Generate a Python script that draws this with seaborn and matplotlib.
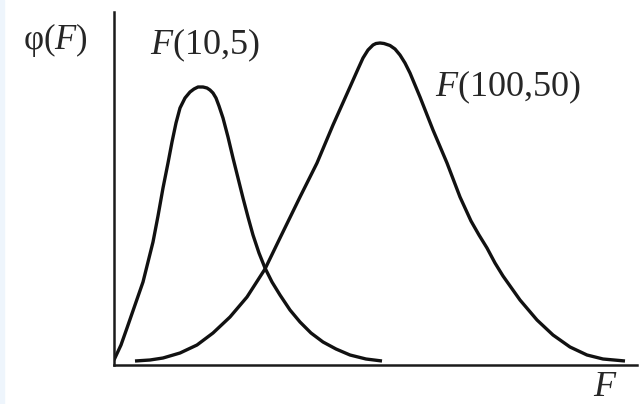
import numpy as np
import pandas as pd
import matplotlib
matplotlib.use("Agg")
import matplotlib.pyplot as plt
from matplotlib.patches import Rectangle
import seaborn as sns

# CURVE VALUES (F along x, phi(F) up)
f_10_5_x = [0, 7, 13, 21, 29, 34, 39, 44, 49, 54, 58, 62, 66, 71, 76, 80, 84, 89,
            93, 96, 99, 102, 105, 109, 114, 119, 124, 129, 134, 139, 145, 151,
            158, 166, 176, 186, 197, 209, 222, 236, 252, 268]
f_10_5_y = [5, 20, 37, 60, 83, 103, 123, 149, 177, 202, 223, 242, 257, 267, 273, 276,
            278, 278, 277, 275, 272, 267, 259, 247, 228, 207, 187, 167, 148, 130,
            112, 97, 83, 70, 55, 43, 32, 23, 16, 10, 6, 4]

f_100_50_x = [21, 36, 49, 66, 83, 99, 116, 133, 151, 166, 186, 203, 219, 236, 244,
              249, 254, 259, 262, 266, 270, 276, 281, 286, 291, 296, 306, 319, 333,
              346, 357, 365, 373, 381, 389, 406, 423, 439, 456, 473, 489, 511]
f_100_50_y = [4, 5, 7, 12, 20, 32, 48, 68, 96, 127, 168, 202, 240, 278, 296,
              307, 315, 320, 321.5, 322, 321.5, 319.5, 316, 310, 302, 292, 268, 235, 202,
              168, 144, 130, 117, 102, 89, 65, 45, 30, 18, 10, 6, 4]

# LABELS
y_label = "φ($F$)"
x_label = "$F$"
curve_labels = ["$F$(10,5)", "$F$(100,50)"]

sns.set_theme(style="white")
plt.rcParams['font.family'] = ['Liberation Serif', 'DejaVu Serif']
plt.rcParams['mathtext.fontset'] = 'custom'
plt.rcParams['mathtext.rm'] = 'Liberation Serif'
plt.rcParams['mathtext.it'] = 'Liberation Serif:italic'

W, H = 639, 404
fig = plt.figure(figsize=(W / 100, H / 100), dpi=100)
fig.patches.append(Rectangle((0, 0), 4 / W, 1, transform=fig.transFigure,
                             color='#eef5fc', zorder=0))
ax = fig.add_axes([114 / W, (H - 365) / H, (637 - 114) / W, (365 - 12) / H])

df1 = pd.DataFrame({'F': f_10_5_x, 'phi': f_10_5_y})
df2 = pd.DataFrame({'F': f_100_50_x, 'phi': f_100_50_y})
line_kw = dict(color='#111111', lw=2.4, sort=False,
               solid_joinstyle='round', solid_capstyle='butt')
sns.lineplot(data=df1, x='F', y='phi', ax=ax, **line_kw)
sns.lineplot(data=df2, x='F', y='phi', ax=ax, **line_kw)

ax.set_xlim(0, 523)
ax.set_ylim(0, 353)
ax.set_xticks([])
ax.set_yticks([])
ax.set_xlabel('')
ax.set_ylabel('')
for s in ['top', 'right']:
    ax.spines[s].set_visible(False)
for s in ['left', 'bottom']:
    ax.spines[s].set_color('#1a1a1a')
    ax.spines[s].set_linewidth(1.8)

fs = 26
ax.text(-59, 325, y_label, fontsize=25, ha='center', va='center', clip_on=False)
ax.text(91, 320, curve_labels[0], fontsize=fs, ha='center', va='center', clip_on=False)
ax.text(321, 278, curve_labels[1], fontsize=fs, ha='left', va='center', clip_on=False)
ax.text(491, -23, x_label, fontsize=fs, ha='center', va='center', clip_on=False)

fig.savefig('out.png', dpi=100, facecolor='white')
